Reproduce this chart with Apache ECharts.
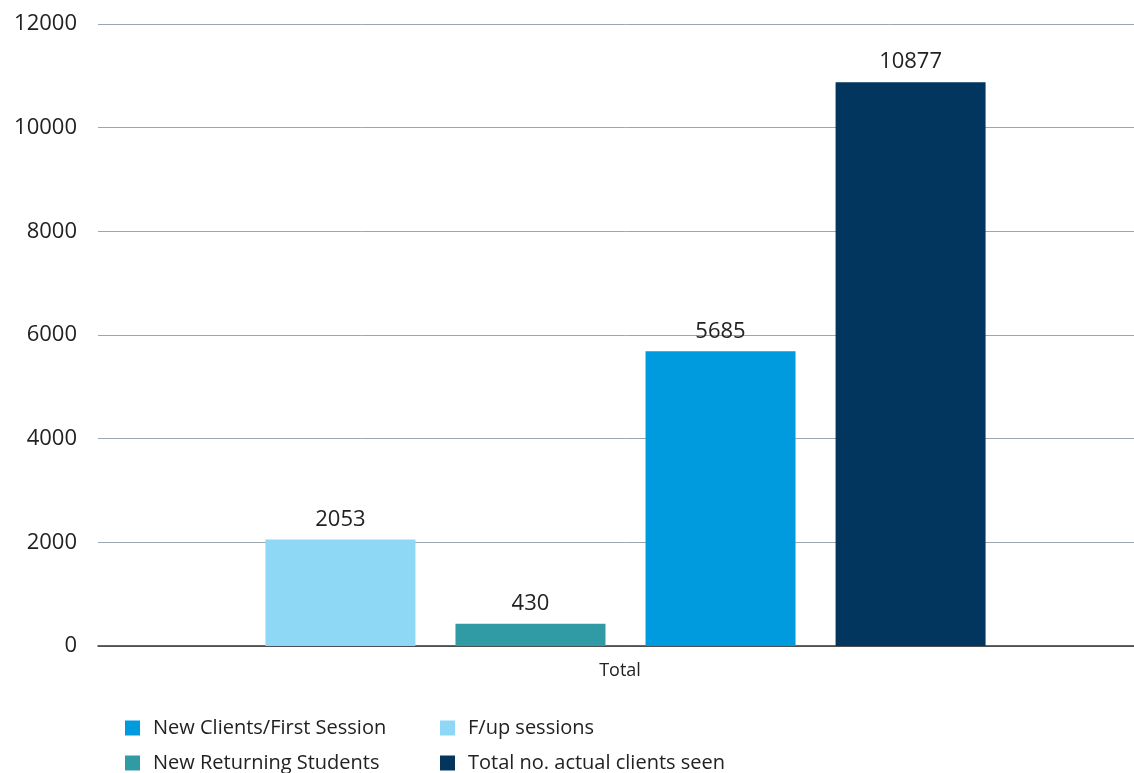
<!DOCTYPE html>
<html>
<head>
<meta charset="utf-8">
<script src="https://cdn.jsdelivr.net/npm/echarts@6/dist/echarts.min.js"></script>
<style>
html,body{margin:0;padding:0;background:#fff;overflow:hidden;width:1134px;height:773px;}
#chart{width:1153px;height:773px;}
</style>
</head>
<body>
<div id="chart"></div>
<script>
const categories = ["Total"];
const seriesNames = ["F/up sessions", "New Returning Students", "New Clients/First Session", "Total no. actual clients seen"];
const fupSessions = [2053];
const newReturningStudents = [430];
const newClientsFirstSession = [5685];
const totalActualClients = [10877];
const yTicks = [0, 2000, 4000, 6000, 8000, 10000, 12000];

const seriesValues = [fupSessions, newReturningStudents, newClientsFirstSession, totalActualClients];
const colors = ["#8ed7f5", "#309ba4", "#009ade", "#02365f"];
const FONT = "Open Sans";

const chart = echarts.init(document.getElementById('chart'), null, {renderer: 'canvas'});
const legendCommon = {
  orient: 'vertical', top: 718, itemWidth: 15, itemHeight: 15, itemGap: 15,
  padding: 0, icon: 'rect', height: 60,
  textStyle: {fontFamily: FONT, fontSize: 20, color: '#222', padding: [0, 0, 0, 8]}
};
const option = {
  animation: false,
  backgroundColor: '#ffffff',
  textStyle: {fontFamily: FONT},
  grid: {left: 98, right: 0, top: 24, bottom: 127, containLabel: false},
  legend: [
    Object.assign({}, legendCommon, {left: 125, data: ["New Clients/First Session", "New Returning Students"]}),
    Object.assign({}, legendCommon, {left: 440, data: ["F/up sessions", "Total no. actual clients seen"]})
  ],
  xAxis: {
    type: 'category',
    data: categories,
    axisTick: {show: false},
    axisLine: {lineStyle: {color: '#333', width: 1.5}},
    axisLabel: {
      fontFamily: FONT, fontSize: 18, color: '#222', margin: 16,
      padding: [0, 11, 0, 0]
    },
    splitLine: {show: false}
  },
  yAxis: {
    type: 'value',
    min: yTicks[0],
    max: yTicks[yTicks.length - 1],
    interval: yTicks[1] - yTicks[0],
    axisLine: {show: false},
    axisTick: {show: false},
    axisLabel: {fontFamily: FONT, fontSize: 22, color: '#222', margin: 21, formatter: v => String(v)},
    splitLine: {lineStyle: {color: '#9da5ae', width: 1}}
  },
  series: seriesNames.map((name, i) => ({
    name: name,
    type: 'bar',
    data: seriesValues[i],
    barWidth: 150,
    barGap: '26.7%',
    itemStyle: {color: colors[i]},
    label: {
      show: true, position: 'top', distance: 9,
      fontFamily: FONT, fontSize: 22, color: '#222'
    }
  }))
};
chart.setOption(option);
</script>
</body>
</html>
